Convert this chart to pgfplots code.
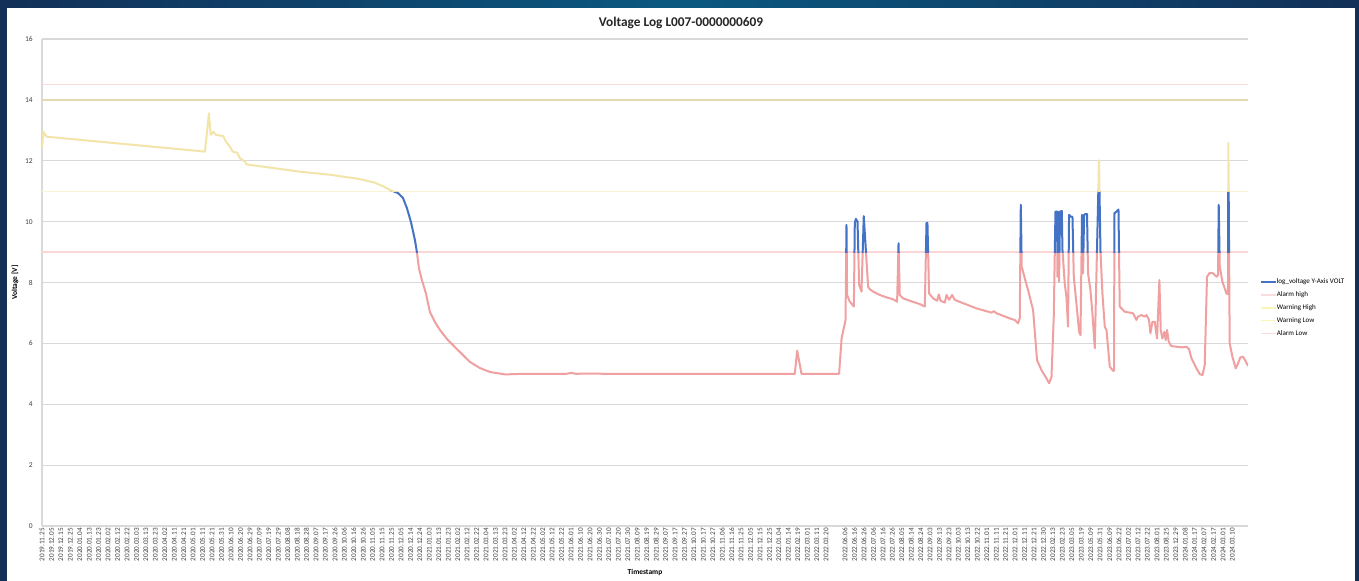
\documentclass[border=0pt]{standalone}
\usepackage{pgfplots}
\pgfplotsset{compat=1.18}
\usepackage{pgfplotstable}
\usepackage{fontspec}
\setmainfont{Carlito}
\definecolor{lineyellow}{RGB}{243,228,170}
\definecolor{lineblue}{RGB}{68,114,196}
\definecolor{linepink}{RGB}{240,160,160}
\definecolor{alarmhigh}{RGB}{249,220,220}
\definecolor{warnhigh}{RGB}{228,216,176}
\definecolor{warnlow}{RGB}{250,244,212}
\definecolor{alarmlow}{RGB}{250,214,214}
\definecolor{gridgray}{RGB}{217,217,217}
\definecolor{textgray}{RGB}{64,64,64}
\definecolor{bgnavy}{RGB}{18,48,88}
\definecolor{bgteal}{RGB}{10,88,128}

\pgfplotstableread{
x y
0.00 12.42
0.14 12.95
0.50 12.79
17.25 12.30
17.67 13.56
17.85 12.85
18.13 12.95
18.41 12.85
19.19 12.81
19.47 12.62
19.89 12.46
20.18 12.30
20.67 12.26
20.95 12.08
21.48 11.97
21.66 11.88
27.30 11.64
30.50 11.54
33.60 11.40
35.20 11.28
36.20 11.15
36.83 11.04
37.67 10.94
38.20 10.78
38.62 10.45
39.05 9.99
39.47 9.40
39.68 9.00
39.89 8.48
40.21 8.08
40.63 7.65
41.06 7.03
41.59 6.70
42.12 6.44
42.96 6.11
44.02 5.78
45.29 5.39
46.35 5.19
47.41 5.06
49.00 4.98
51.00 5.00
55.50 5.00
56.00 5.03
56.50 5.00
58.00 5.01
59.50 5.00
79.68 5.00
79.93 5.76
80.39 5.00
84.37 5.00
84.63 6.16
84.90 6.55
85.05 6.77
85.15 9.89
85.22 7.59
85.50 7.37
85.93 7.21
86.03 9.94
86.14 10.09
86.32 10.00
86.49 7.92
86.74 7.70
86.98 10.18
87.20 9.07
87.44 7.86
87.62 7.78
87.97 7.70
88.68 7.59
89.39 7.51
90.08 7.45
90.51 7.37
90.66 9.29
90.79 7.59
91.14 7.48
91.85 7.40
92.91 7.29
93.44 7.21
93.62 9.96
93.72 9.96
93.89 7.64
94.32 7.48
94.74 7.40
94.92 7.61
95.10 7.40
95.56 7.34
95.74 7.59
96.01 7.43
96.33 7.59
96.61 7.43
97.49 7.32
98.91 7.15
100.50 7.01
100.74 7.06
101.03 6.99
102.43 6.82
102.96 6.77
103.31 6.66
103.49 6.82
103.60 10.55
103.70 8.52
104.02 8.14
104.37 7.75
104.90 7.10
105.32 5.45
105.79 5.12
106.32 4.85
106.59 4.69
106.85 4.90
107.09 6.88
107.27 10.33
107.44 10.33
107.48 8.19
107.54 10.33
107.65 8.03
107.76 10.33
107.94 10.35
108.01 9.07
108.25 7.97
108.43 7.53
108.60 6.55
108.71 10.22
108.89 10.16
109.07 10.16
109.21 8.19
109.42 7.53
109.77 6.38
109.92 6.27
110.08 10.22
110.19 8.30
110.30 10.22
110.44 10.25
110.61 10.25
110.72 8.30
110.97 7.75
111.18 6.99
111.43 5.84
111.88 12.02
112.03 9.07
112.24 7.64
112.49 6.55
112.67 6.44
113.02 5.23
113.37 5.10
113.47 5.10
113.51 10.27
113.72 10.33
113.94 10.40
114.07 7.21
114.60 7.04
115.48 6.99
115.84 6.77
116.01 6.88
116.37 6.93
116.72 6.88
116.90 6.93
117.17 6.77
117.32 6.33
117.53 6.71
117.78 6.71
118.02 6.16
118.27 8.08
118.41 6.44
118.59 6.16
118.80 6.38
118.94 6.11
119.08 6.44
119.26 6.05
119.54 5.91
120.07 5.89
120.71 5.87
121.13 5.89
121.41 5.81
121.66 5.51
122.19 5.18
122.54 4.99
122.83 4.96
123.07 5.29
123.31 8.19
123.60 8.32
123.95 8.30
124.31 8.19
124.48 8.25
124.55 10.55
124.66 8.52
124.94 8.03
125.36 7.64
125.53 7.62
125.57 12.58
125.71 6.00
126.00 5.56
126.35 5.18
126.59 5.34
126.84 5.54
127.12 5.56
127.37 5.43
127.65 5.26
}\voltdata

\begin{document}
\begin{tikzpicture}[x=0.75pt,y=0.75pt]
\useasboundingbox (0,0) rectangle (1359,581);
\shade[left color=bgnavy, right color=bgnavy, middle color=bgteal] (0,0) rectangle (1359,581);
\fill[white] (7,0) rectangle (1355,573);
\node[font=\bfseries\fontsize{10}{12}\selectfont, text=black!85] at (681,558) {Voltage Log L007-0000000609};
\begin{axis}[
  at={(31.5pt,41.25pt)}, anchor=south west,
  scale only axis, width=904.5pt, height=365.25pt,
  xmin=0, xmax=127.65, ymin=0, ymax=16,
  enlargelimits=false,
  /pgf/number format/assume math mode=true,
  axis x line*=bottom, axis y line*=left,
  axis line style={draw=gridgray, line width=1pt},
  major tick length=0pt,
  ytick={0,2,...,16},
  ymajorgrids, major grid style={draw=gridgray, line width=0.8pt},
  xtick={0,...,126},
  xticklabels={2019.11.25,2019.12.05,2019.12.15,2019.12.25,2020.01.04,2020.01.13,2020.01.23,2020.02.02,2020.02.12,2020.02.22,2020.03.03,2020.03.13,2020.03.23,2020.04.02,2020.04.11,2020.04.21,2020.05.01,2020.05.11,2020.05.21,2020.05.31,2020.06.10,2020.06.20,2020.06.29,2020.07.09,2020.07.19,2020.07.29,2020.08.08,2020.08.18,2020.08.28,2020.09.07,2020.09.17,2020.09.26,2020.10.06,2020.10.16,2020.10.26,2020.11.05,2020.11.15,2020.11.25,2020.12.05,2020.12.14,2020.12.24,2021.01.03,2021.01.13,2021.01.23,2021.02.02,2021.02.12,2021.02.22,2021.03.04,2021.03.13,2021.03.23,2021.04.02,2021.04.12,2021.04.22,2021.05.02,2021.05.12,2021.05.22,2021.06.01,2021.06.10,2021.06.20,2021.06.30,2021.07.10,2021.07.20,2021.07.30,2021.08.09,2021.08.19,2021.08.29,2021.09.07,2021.09.17,2021.09.27,2021.10.07,2021.10.17,2021.10.27,2021.11.06,2021.11.16,2021.11.25,2021.12.05,2021.12.15,2021.12.25,2022.01.04,2022.01.14,2022.02.19,2022.03.01,2022.03.11,2022.03.20,{},2022.06.06,2022.06.16,2022.06.26,2022.07.06,2022.07.16,2022.07.26,2022.08.05,2022.08.14,2022.08.24,2022.09.03,2022.09.13,2022.09.23,2022.10.03,2022.10.13,2022.10.22,2022.11.01,2022.11.11,2022.11.21,2022.12.01,2022.12.11,2022.12.21,2022.12.30,2023.02.13,2023.02.23,2023.03.05,2023.03.19,2023.05.09,2023.05.31,2023.06.09,2023.06.22,2023.07.02,2023.07.12,2023.07.22,2023.08.01,2023.08.25,2023.12.29,2024.01.08,2024.01.17,2024.02.07,2024.02.17,2024.03.01,2024.03.10},
  x tick label style={rotate=90, anchor=east, font=\fontsize{5.4}{6}\selectfont, text=textgray, inner sep=1.5pt},
  y tick label style={font=\fontsize{5.6}{6}\selectfont, text=textgray, xshift=-3.5pt},
  xlabel={Timestamp}, ylabel={Voltage [V]},
  every axis x label/.style={at={(axis description cs:0.5,-0.0945)}, anchor=center, font=\bfseries\fontsize{5.6}{6}\selectfont},
  every axis y label/.style={at={(axis description cs:-0.0224,0.5)}, anchor=center, rotate=90, font=\bfseries\fontsize{5.6}{6}\selectfont},
  legend style={draw=none, fill=none, at={(axis description cs:1.0095,0.4479)}, anchor=west, inner sep=0pt,
    font=\fontsize{5.3}{6}\selectfont, nodes={inner sep=0.4pt, text height=3.8pt, text depth=1.2pt}, row sep=3.9pt},
  legend cell align=left,
  legend image code/.code={\draw[#1] (0pt,0pt) -- (11.25pt,0pt);},
]
\addlegendimage{lineblue, line width=1.2pt}
\addlegendentry{log\_voltage Y-Axis VOLT}
\addlegendimage{alarmhigh, line width=1pt}
\addlegendentry{Alarm high}
\addlegendimage{warnlow!85!yellow, line width=1pt}
\addlegendentry{Warning High}
\addlegendimage{warnlow!85!yellow, line width=1pt}
\addlegendentry{Warning Low}
\addlegendimage{alarmhigh, line width=1pt}
\addlegendentry{Alarm Low}
% threshold lines
\addplot[alarmhigh, line width=0.9pt, forget plot] coordinates {(0,14.5) (127.65,14.5)};
\addplot[warnhigh, line width=1pt, forget plot] coordinates {(0,14) (127.65,14)};
\addplot[warnlow, line width=1pt, forget plot] coordinates {(0,11) (127.65,11)};
\addplot[alarmlow, line width=0.9pt, forget plot] coordinates {(0,9) (127.65,9)};
% voltage series, coloured by band
\begin{scope}
\clip (axis cs:-1,-1) rectangle (axis cs:130,9);
\addplot[linepink, line width=1.5pt, forget plot, line join=round] table {\voltdata};
\end{scope}
\begin{scope}
\clip (axis cs:-1,9) rectangle (axis cs:130,11);
\addplot[lineblue, line width=1.5pt, forget plot, line join=round] table {\voltdata};
\end{scope}
\begin{scope}
\clip (axis cs:-1,11) rectangle (axis cs:130,17);
\addplot[lineyellow, line width=1.5pt, forget plot, line join=round] table {\voltdata};
\end{scope}
\end{axis}
\end{tikzpicture}
\end{document}
